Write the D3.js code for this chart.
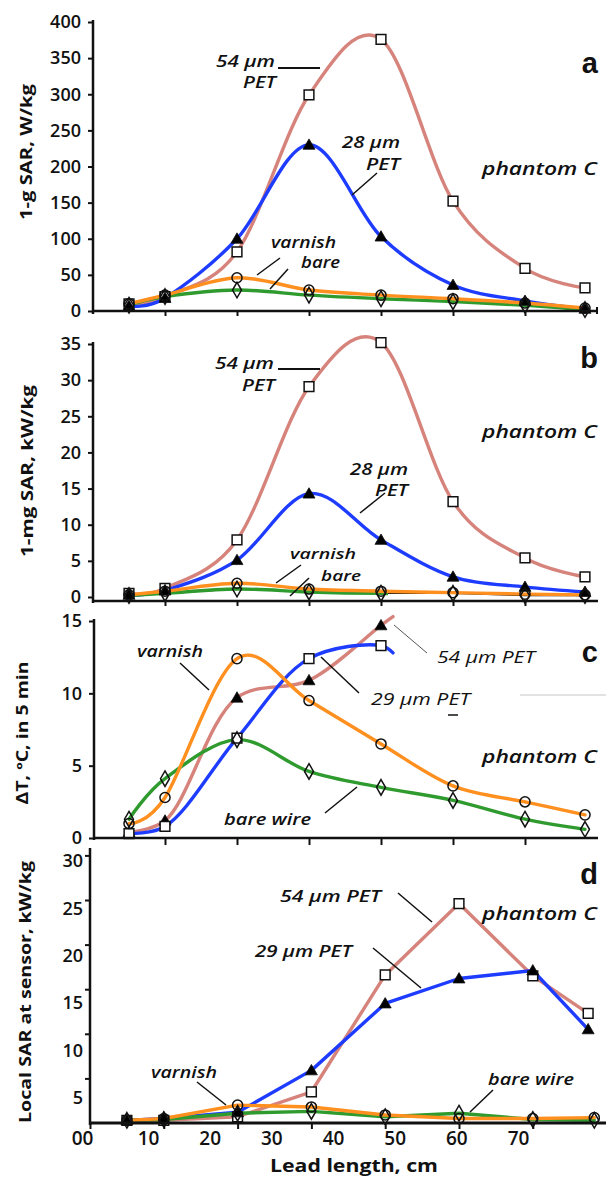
<!DOCTYPE html>
<html><head><meta charset="utf-8">
<script src="https://cdn.jsdelivr.net/npm/d3@7"></script>
<style>
body{margin:0;background:#fff}
svg{display:block}
text{font-family:'Open Sans','DejaVu Sans',sans-serif;fill:#111}
</style>
</head><body>
<svg id="chart" width="606" height="1177"></svg>
<script>
// ---------- DATA ----------
const leadCm   = [6, 12, 24, 36, 48, 60, 72, 82];   // lead length, cm (panels a-c)
const leadCmD  = [6, 12, 24, 36, 48, 60, 72, 81];   // PET leads, panel d
const leadCmDw = [6, 12, 24, 36, 48, 60, 72, 82];   // varnish / bare, panel d
const leadCmC  = [6, 12, 24, 36, 48];               // PET leads, panel c
const tailCmC  = [50];                              // visible continuation, panel c

// panel a : 1-g SAR, W/kg
const pet54A   = [10, 20, 82, 299, 376, 152, 59, 32];
const pet28A   = [7, 18, 100, 230, 103, 36, 14, 3];
const varnishA = [10, 22, 46, 29, 22, 17, 11, 4];
const bareA    = [8, 20, 29, 22, 17, 13, 8, 2];

// panel b : 1-mg SAR, kW/kg
const pet54B   = [0.5, 1.2, 7.9, 29.1, 35.2, 13.2, 5.4, 2.8];
const pet28B   = [0.3, 0.9, 5.1, 14.3, 7.9, 2.8, 1.4, 0.7];
const varnishB = [0.3, 0.8, 1.9, 1.1, 0.8, 0.6, 0.4, 0.3];
const bareB    = [0.2, 0.5, 1.1, 0.7, 0.5, 0.5, 0.2, 0.2];

// panel c : temperature rise in 5 min, degC
const varnishC = [1.0, 2.8, 12.4, 9.5, 6.5, 3.6, 2.5, 1.6];
const bareC    = [1.3, 4.1, 6.8, 4.6, 3.5, 2.6, 1.3, 0.6];
const pet54C   = [0.4, 1.2, 9.7, 10.9, 14.7];
const pet29C   = [0.3, 0.8, 6.9, 12.4, 13.3];
const pet54CTail = [15.3];
const pet29CTail = [12.8];

// panel d : local SAR at sensor, kW/kg
const pet54D   = [0.3, 0.3, 0.7, 3.5, 16.6, 24.6, 16.5, 12.3];
const pet29D   = [0.3, 0.5, 1.2, 5.9, 13.4, 16.2, 17.1, 10.5];
const varnishD = [0.3, 0.5, 2.0, 1.8, 0.9, 0.5, 0.5, 0.6];
const bareD    = [0.3, 0.4, 1.1, 1.3, 0.7, 1.1, 0.4, 0.3];

// ticks
const xTickCm  = [12, 24, 36, 48, 60, 72];
const yTicksA  = [0, 50, 100, 150, 200, 250, 300, 350, 400];
const yTicksB  = [0, 5, 10, 15, 20, 25, 30, 35];
const yTicksC  = [0, 5, 10, 15];
const yTicksD  = [5, 10, 15, 20, 25, 30];
const xLabelsD = [0, 10, 20, 30, 40, 50, 60, 70];

// ---------- STYLE ----------
const C = {salmon:"#d6837c", blue:"#1e3cff", orange:"#ff8f1e", green:"#2f9b2f"};
const svg = d3.select("#chart");

// ---------- SCALES ----------
const xA = d3.scaleLinear().domain([0, 84]).range([93, 597]);
const xD = d3.scaleLinear().domain([0, 84]).range([90, 606.6]);
const yA = d3.scaleLinear().domain([0, 400]).range([311, 22]);
const yB = d3.scaleLinear().domain([0, 35]).range([597, 344]);
const yC = d3.scaleLinear().domain([0, 15]).range([838, 621]);
const yD = d3.scaleLinear().domain([0, 25]).range([1123, 900]);
const yLabD = d3.scaleLinear().domain([5, 30]).range([1098, 861]);
const xLabD = d3.scaleLinear().domain([0, 10, 70]).range([82, 148, 518]);

// ---------- HELPERS ----------
function styleAxis(g, w){
  g.selectAll("path.domain").remove();
  g.selectAll("line").attr("stroke","#111").attr("stroke-width", w||2);
  g.selectAll("text").style("font-family","'Open Sans',sans-serif")
    .style("font-weight","600").style("font-size","18px").attr("fill","#111");
}
function vline(x, y1, y2, w){ svg.append("line").attr("x1",x).attr("x2",x).attr("y1",y1).attr("y2",y2).attr("stroke","#111").attr("stroke-width",w||2.5); }
function hline(y, x1, x2, w, col){ svg.append("line").attr("x1",x1).attr("x2",x2).attr("y1",y).attr("y2",y).attr("stroke",col||"#111").attr("stroke-width",w||2.5); }
function seg(x1,y1,x2,y2,w,col){ svg.append("line").attr("x1",x1).attr("y1",y1).attr("x2",x2).attr("y2",y2).attr("stroke",col||"#111").attr("stroke-width",w||1.5); }
function txt(x,y,s,opt){
  opt = opt||{};
  const t = svg.append("text").attr("x",x).attr("y",y).text(s)
    .style("font-size",(opt.size||16)+"px")
    .style("font-weight",opt.weight||600)
    .style("font-style",opt.italic===false?"normal":"italic")
    .style("font-family",opt.family||"'Open Sans',sans-serif");
  if(opt.len) t.attr("textLength",opt.len).attr("lengthAdjust","spacingAndGlyphs");
  if(opt.anchor) t.attr("text-anchor",opt.anchor);
  return t;
}
function ylab(x,y,s,len){
  svg.append("text").attr("transform",`translate(${x},${y}) rotate(-90)`)
    .attr("text-anchor","middle").attr("dy","0.35em").text(s)
    .style("font-size","16px").style("font-weight",700)
    .attr("textLength",len).attr("lengthAdjust","spacingAndGlyphs");
}
const SMOOTH = d3.curveCatmullRom.alpha(0);
const SMOOTH_C = d3.curveCatmullRom.alpha(0.5);
function curveLine(xs, ys, xs_, ys_, color, curve, width, clip){
  const pts = xs.map((d,i)=>[xs_(d), ys_(ys[i])]);
  const gen = d3.line().curve(curve || d3.curveLinear);
  const p = svg.append("path").attr("d", gen(pts)).attr("fill","none")
    .attr("stroke", color).attr("stroke-width", width||3.4)
    .attr("stroke-linejoin","round").attr("stroke-linecap","round");
  if(clip) p.attr("clip-path", `url(#${clip})`);
  return p;
}
const symSize = {square:95, triangle:62, circle:80, diamond:70};
const symType = {square:d3.symbolSquare, triangle:d3.symbolTriangle, circle:d3.symbolCircle, diamond:d3.symbolDiamond};
function markers(xs, ys, xs_, ys_, kind){
  const gen = d3.symbol().type(symType[kind]).size(symSize[kind]);
  svg.append("g").selectAll("path").data(xs).join("path")
    .attr("transform",(d,i)=>`translate(${xs_(d)},${ys_(ys[i]) + (kind==="triangle"?1:0)})`)
    .attr("d", gen)
    .attr("fill", kind==="triangle" ? "#000" : (kind==="square" ? "#fff" : "none"))
    .attr("stroke", "#111").attr("stroke-width", kind==="triangle"?0.8:1.5);
}

// clip paths
const defs = svg.append("defs");
defs.append("clipPath").attr("id","clipB").append("rect").attr("x",0).attr("y",320).attr("width",388).attr("height",290);

// ---------- PANEL A ----------
curveLine(leadCm, pet54A, xA, yA, C.salmon, SMOOTH);
curveLine(leadCm, pet28A, xA, yA, C.blue, SMOOTH);
curveLine(leadCm, bareA, xA, yA, C.green, SMOOTH);
curveLine(leadCm, varnishA, xA, yA, C.orange, SMOOTH);
markers(leadCm, pet54A, xA, yA, "square");
markers(leadCm, pet28A, xA, yA, "triangle");
markers(leadCm, bareA, xA, yA, "diamond");
markers(leadCm, varnishA, xA, yA, "circle");
styleAxis(svg.append("g").attr("transform","translate(93,0)")
  .call(d3.axisLeft(yA).tickValues(yTicksA).tickSize(5).tickPadding(7)));
styleAxis(svg.append("g").attr("transform","translate(0,311)")
  .call(d3.axisBottom(xA).tickValues(xTickCm).tickSize(5).tickFormat("")));
vline(93, 20, 314); hline(311, 93, 598);
vline(597, 307, 314, 2);

// ---------- PANEL B ----------
curveLine(leadCm, pet54B, xA, yB, C.salmon, SMOOTH);
curveLine(leadCm, pet28B, xA, yB, C.blue, SMOOTH);
curveLine(leadCm, bareB, xA, yB, "#111", null, 1.2);
curveLine(leadCm, bareB, xA, yB, C.green, SMOOTH, 3.4, "clipB");
curveLine(leadCm, varnishB, xA, yB, C.orange, SMOOTH);
markers(leadCm, pet54B, xA, yB, "square");
markers(leadCm, pet28B, xA, yB, "triangle");
markers(leadCm, bareB, xA, yB, "diamond");
markers(leadCm, varnishB, xA, yB, "circle");
styleAxis(svg.append("g").attr("transform","translate(93,0)")
  .call(d3.axisLeft(yB).tickValues(yTicksB).tickSize(5).tickPadding(7)));
styleAxis(svg.append("g").attr("transform","translate(0,601)")
  .call(d3.axisBottom(xA).tickValues(xTickCm).tickSize(5).tickFormat("")));
vline(93, 342, 603); hline(601, 93, 598);

// ---------- PANEL C ----------
curveLine(leadCmC.concat(tailCmC), pet54C.concat(pet54CTail), xA, yC, C.salmon, SMOOTH_C);
curveLine(leadCmC.concat(tailCmC), pet29C.concat(pet29CTail), xA, yC, C.blue, SMOOTH_C);
curveLine(leadCm, bareC, xA, yC, C.green, SMOOTH);
curveLine(leadCm, varnishC, xA, yC, C.orange, SMOOTH);
markers(leadCmC, pet54C, xA, yC, "triangle");
markers(leadCmC, pet29C, xA, yC, "square");
markers(leadCm, bareC, xA, yC, "diamond");
markers(leadCm, varnishC, xA, yC, "circle");
styleAxis(svg.append("g").attr("transform","translate(94,0)")
  .call(d3.axisLeft(yC).tickValues(yTicksC).tickSize(5).tickPadding(7)));
styleAxis(svg.append("g").attr("transform","translate(0,838)")
  .call(d3.axisBottom(xA).tickValues(xTickCm).tickSize(7).tickFormat("")));
vline(94, 619, 840); hline(838, 94, 598);

// ---------- PANEL D ----------
curveLine(leadCmD, pet54D, xD, yD, C.salmon);
curveLine(leadCmD, pet29D, xD, yD, C.blue);
curveLine(leadCmDw, bareD, xD, yD, C.green);
curveLine(leadCmDw, varnishD, xD, yD, C.orange);
markers(leadCmD, pet54D, xD, yD, "square");
markers(leadCmD, pet29D, xD, yD, "triangle");
markers(leadCmDw, bareD, xD, yD, "diamond");
markers(leadCmDw, varnishD, xD, yD, "circle");
styleAxis(svg.append("g").attr("transform","translate(90,0)")
  .call(d3.axisLeft(yD).tickValues(yTicksD).tickSize(5).tickFormat("")));
styleAxis(svg.append("g").attr("transform","translate(83,0)")
  .call(d3.axisLeft(yLabD).tickValues(yTicksD).tickSize(0).tickPadding(0)));
styleAxis(svg.append("g").attr("transform","translate(0,1123)")
  .call(d3.axisBottom(xD).tickValues([0].concat(xTickCm)).tickSize(6).tickFormat("")));
const xLabG = svg.append("g").attr("transform","translate(0,1131)")
  .call(d3.axisBottom(xLabD).tickValues(xLabelsD).tickSize(0).tickPadding(0).tickFormat(d3.format("02d")));
styleAxis(xLabG);
xLabG.selectAll("text").style("font-size","19px");
vline(90, 848, 1125); hline(1123, 90, 606, 3);

// ---------- AXIS TITLES ----------
ylab(26, 152, "1-g SAR, W/kg", 136);
ylab(27, 471, "1-mg  SAR, kW/kg", 172);
ylab(22, 733, "ΔT, ºC, in 5 min", 143);
ylab(25, 992, "Local SAR at sensor, kW/kg", 262);
txt(354, 1172, "Lead length, cm", {italic:false, weight:700, size:17, anchor:"middle", len:168});

// ---------- PANEL LETTERS ----------
[["a",73],["b",368],["c",662],["d",884]].forEach(([s,y])=>{
  txt(598, y, s, {italic:false, weight:700, size:29, anchor:"end", family:"'Liberation Sans',Arial,sans-serif"});
});
// phantom C
[175, 438, 763, 920].forEach(y=>txt(482, y, "phantom C", {size:18, len:115}));

// ---------- ANNOTATIONS ----------
// a
txt(216, 67, "54 µm", {len:59}); txt(243, 88, "PET", {len:33});
hline(68, 278, 320, 2);
txt(342, 148, "28 µm", {len:58}); txt(366, 170, "PET", {len:34});
seg(377, 173, 352, 195);
txt(271, 248, "varnish", {len:65}); txt(301, 268, "bare", {len:39});
seg(280, 258, 257, 275); seg(288, 269, 270, 289);
// b
txt(215, 369, "54 µm", {len:59}); txt(242, 391, "PET", {len:33});
hline(369, 278, 320, 2);
txt(350, 475, "28 µm", {len:58}); txt(375, 496, "PET", {len:33});
seg(385, 493, 360, 513);
txt(290, 559, "varnish", {len:66, size:15}); txt(321, 581, "bare", {len:40, size:15});
seg(301, 565, 276, 583); seg(309, 578, 290, 596);
// c
txt(137, 657, "varnish", {len:66});
seg(180, 663, 209, 690);
txt(437, 663, "54 µm PET", {len:98, weight:400});
seg(394, 625, 427, 653, 1, "#555");
txt(371, 705, "29 µm PET", {len:99, weight:400});
seg(321, 657, 359, 693);
hline(715, 448, 458, 1.5);
hline(695, 520, 606, 2, "#e2e2e2");
txt(224, 825, "bare wire", {len:87});
seg(325, 813, 357, 787);
// d
txt(280, 902, "54 µm PET", {len:101});
seg(398, 893, 432, 922);
txt(255, 957, "29 µm PET", {len:97});
seg(373, 948, 421, 988);
txt(151, 1078, "varnish", {len:66});
seg(197, 1082, 226, 1105);
txt(488, 1085, "bare wire", {len:86});
seg(493, 1090, 470, 1112);
</script>
</body></html>
